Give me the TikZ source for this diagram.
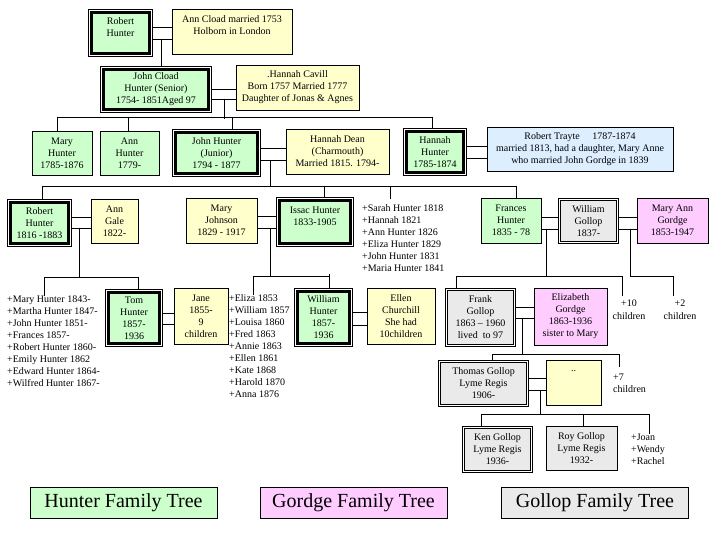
\documentclass[tikz,border=0pt]{standalone}
\usepackage{fontspec}
\setmainfont{Liberation Serif}

\definecolor{huntergreen}{HTML}{CCFFCC}
\definecolor{notecream}{HTML}{FFFFCC}
\definecolor{traytblue}{HTML}{DDEEFF}
\definecolor{gordgepink}{HTML}{FFCCFF}
\definecolor{gollopgray}{HTML}{EAEAEA}

\tikzstyle{famtext} = [font=\fontsize{10}{12}\selectfont, align=center, inner sep=0pt]
\tikzstyle{plainbox} = [famtext, draw=black, rectangle, line width=0.8pt]
\tikzstyle{greenbox} = [plainbox, fill=huntergreen]
\tikzstyle{yellowbox} = [plainbox, fill=notecream]
\tikzstyle{mainbox} = [famtext, draw=black, fill=huntergreen, rectangle,
    line width=2.6pt, outer sep=3.4pt,
    preaction={draw=black, line width=6.8pt},
    preaction={draw=white, line width=5.2pt}]
\tikzstyle{gollopbox} = [famtext, draw=black, fill=gollopgray, rectangle,
    double=white, double distance=1.4pt, line width=0.7pt, outer sep=1.4pt]
\tikzstyle{kidlist} = [famtext, align=left, anchor=north west]
\tikzstyle{legendbox} = [draw=black, line width=0.8pt, inner sep=0pt,
    font=\fontsize{20}{24}\selectfont, minimum width=187pt, minimum height=31pt]
\tikzstyle{famline} = [draw=black, line width=0.8pt, line cap=rect]

\begin{document}
\begin{tikzpicture}[x=1pt, y=-1pt]
\path[use as bounding box, fill=white] (0,0) rectangle (720,540);

%------------ Generation 1 ---------------------
\node [mainbox, minimum width=58.2pt, minimum height=41.2pt] (rob1) at (120.5,33) {Robert\\Hunter\\~};
\node [yellowbox, minimum width=120pt, minimum height=45pt] (acl) at (232,31.5) {Ann Cload married 1753\\Holborn in London\\~};

%------------ Generation 2 ---------------------
\node [mainbox, minimum width=105.2pt, minimum height=40.2pt] (jch) at (156,89.5) {John Cload\\Hunter (Senior)\\1754- 1851Aged 97};
\node [yellowbox, minimum width=123pt, minimum height=45pt] (hca) at (297.5,87.5) {.Hannah Cavill\\Born 1757 Married 1777\\Daughter of Jonas \& Agnes};

%------------ Generation 3 ---------------------
\node [greenbox, minimum width=60pt, minimum height=44pt] (mhu) at (62,153) {Mary\\Hunter\\1785-1876};
\node [greenbox, minimum width=59pt, minimum height=44pt] (ahu) at (129.5,153) {Ann\\Hunter\\1779-};
\node [mainbox, minimum width=82.2pt, minimum height=41.2pt] (jhj) at (216.5,153) {John Hunter\\(Junior)\\1794 - 1877};
\node [yellowbox, minimum width=103pt, minimum height=45pt] (hde) at (337.5,151.5) {Hannah Dean\\(Charmouth)\\Married 1815. 1794-};
\node [mainbox, minimum width=57.2pt, minimum height=41.2pt] (hhu) at (435,152) {Hannah\\Hunter\\1785-1874};
\node [plainbox, fill=traytblue, minimum width=186pt, minimum height=44pt] (rtr) at (580,149) {Robert Trayte\hspace{10pt} 1787-1874\\married 1813, had a daughter, Mary Anne\\who married John Gordge in 1839};

%------------ Generation 4 ---------------------
\node [mainbox, minimum width=58.2pt, minimum height=41.2pt] (rob2) at (39.5,223) {Robert\\Hunter\\1816 -1883};
\node [yellowbox, minimum width=47pt, minimum height=44pt] (aga) at (114.5,221) {Ann\\Gale\\1822-};
\node [yellowbox, minimum width=71pt, minimum height=45pt] (mjo) at (221.5,220.5) {Mary\\Johnson\\1829 - 1917};
\node [mainbox, minimum width=71.2pt, minimum height=43.2pt] (ish) at (315,222) {Issac Hunter\\1833-1905\\~};
\node [kidlist] (slist) at (362,204.5) {+Sarah Hunter 1818\\+Hannah 1821\\+Ann Hunter 1826\\+Eliza Hunter 1829\\+John Hunter 1831\\+Maria Hunter 1841};
\node [greenbox, minimum width=60pt, minimum height=45pt] (fhu) at (511,220.5) {Frances\\Hunter\\1835 - 78};
\node [gollopbox, minimum width=58.2pt, minimum height=43.2pt] (wgo) at (588.5,221) {William\\Gollop\\1837-};
\node [plainbox, fill=gordgepink, minimum width=71pt, minimum height=45pt] (mag) at (672.5,220.5) {Mary Ann\\Gordge\\1853-1947};

%------------ Generation 5 ---------------------
\node [kidlist] (rlist) at (7,295.5) {+Mary Hunter 1843-\\+Martha Hunter 1847-\\+John Hunter 1851-\\+Frances 1857-\\+Robert Hunter 1860-\\+Emily Hunter 1862\\+Edward Hunter 1864-\\+Wilfred Hunter 1867-};
\node [mainbox, minimum width=51.2pt, minimum height=51.2pt] (tom) at (134,318) {Tom\\Hunter\\1857-\\1936};
\node [yellowbox, minimum width=54pt, minimum height=56pt] (jan) at (201,316) {Jane\\1855-\\9\\children};
\node [kidlist] (jlist) at (229,294.5) {+Eliza 1853\\+William 1857\\+Louisa 1860\\+Fred 1863\\+Annie 1863\\+Ellen 1861\\+Kate 1868\\+Harold 1870\\+Anna 1876};
\node [mainbox, minimum width=52.2pt, minimum height=52.2pt] (wih) at (323.5,317.5) {William\\Hunter\\1857-\\1936};
\node [yellowbox, minimum width=68pt, minimum height=56pt] (ell) at (401,316) {Ellen\\Churchill\\She had\\10children};
\node [gollopbox, minimum width=68.2pt, minimum height=56.2pt] (fgo) at (480.5,317.5) {Frank\\Gollop\\1863 -- 1960\\lived\ \ to 97};
\node [plainbox, fill=gordgepink, minimum width=73pt, minimum height=57pt] (egg) at (570.5,316.5) {Elizabeth\\Gordge\\1863-1936\\sister to Mary};
\node [famtext, font=\fontsize{10}{13}\selectfont, anchor=north] (kids10) at (629,299.5) {+10\\children};
\node [famtext, font=\fontsize{10}{13}\selectfont, anchor=north] (kids2) at (680,299.5) {+2\\children};

%------------ Generation 6 and 7 ---------------------
\node [gollopbox, minimum width=88.2pt, minimum height=44.2pt] (tgo) at (483.5,383.5) {Thomas Gollop\\Lyme Regis\\1906-};
\node [yellowbox, minimum width=55pt, minimum height=45pt] (dot) at (573.5,382.5) {..\\~\\~};
\node [kidlist] (kids7) at (613,373.5) {+7\\children};
\node [gollopbox, minimum width=68.2pt, minimum height=44.2pt] (kgo) at (497.5,449.5) {Ken Gollop\\Lyme Regis\\1936-};
\node [plainbox, fill=gollopgray, minimum width=71pt, minimum height=44pt] (rgo) at (581.5,448) {Roy Gollop\\Lyme Regis\\1932-};
\node [kidlist] (klist) at (631,433.5) {+Joan\\+Wendy\\+Rachel};

%------------ Legend ---------------------
\node [legendbox, fill=huntergreen] (legh) at (123.5,502.5) {Hunter Family Tree};
\node [legendbox, fill=gordgepink] (legg) at (353.5,502.5) {Gordge Family Tree};
\node [legendbox, fill=gollopgray] (legl) at (595,502.5) {Gollop Family Tree};

%------------ Marriages ---------------------
\draw [famline] (rob1.east |- 0,27) -- (acl.west |- 0,27);
\draw [famline] (rob1.east |- 0,39) -- (acl.west |- 0,39);
\draw [famline] (jch.east |- 0,89) -- (hca.west |- 0,89);
\draw [famline] (jch.east |- 0,99) -- (hca.west |- 0,99);
\draw [famline] (jhj.east |- 0,148) -- (hde.west |- 0,148);
\draw [famline] (jhj.east |- 0,160) -- (hde.west |- 0,160);
\draw [famline] (hhu.east |- 0,146) -- (rtr.west |- 0,146);
\draw [famline] (hhu.east |- 0,158) -- (rtr.west |- 0,158);
\draw [famline] (rob2.east |- 0,217) -- (aga.west |- 0,217);
\draw [famline] (rob2.east |- 0,228) -- (aga.west |- 0,228);
\draw [famline] (mjo.east |- 0,216) -- (ish.west |- 0,216);
\draw [famline] (mjo.east |- 0,228) -- (ish.west |- 0,228);
\draw [famline] (fhu.east |- 0,217) -- (wgo.west |- 0,217);
\draw [famline] (fhu.east |- 0,229) -- (wgo.west |- 0,229);
\draw [famline] (wgo.east |- 0,217) -- (mag.west |- 0,217);
\draw [famline] (wgo.east |- 0,229) -- (mag.west |- 0,229);
\draw [famline] (tom.east |- 0,313) -- (jan.west |- 0,313);
\draw [famline] (tom.east |- 0,324) -- (jan.west |- 0,324);
\draw [famline] (wih.east |- 0,312) -- (ell.west |- 0,312);
\draw [famline] (wih.east |- 0,325) -- (ell.west |- 0,325);
\draw [famline] (fgo.east |- 0,307) -- (egg.west |- 0,307);
\draw [famline] (fgo.east |- 0,318) -- (egg.west |- 0,318);
\draw [famline] (tgo.east |- 0,378) -- (dot.west |- 0,378);
\draw [famline] (tgo.east |- 0,390) -- (dot.west |- 0,390);

%------------ Children ---------------------
\draw [famline] (161,39) -- (jch.north -| 161,0);
% John Cload Hunter
\draw [famline] (224,99) -- (224,119);
\draw [famline] (57,117) -- (432,117);
\draw [famline] (57,117) -- (mhu.north -| 57,0);
\draw [famline] (128,117) -- (ahu.north -| 128,0);
\draw [famline] (232,117) -- (jhj.north -| 232,0);
\draw [famline] (432,117) -- (hhu.north -| 432,0);
% John Hunter (Junior)
\draw [famline] (270,160) -- (270,186);
\draw [famline] (42,186) -- (516,186);
\draw [famline] (42,186) -- (rob2.north -| 42,0);
\draw [famline] (324,186) -- (ish.north -| 324,0);
\draw [famline] (390,186) -- ([yshift=6pt]slist.north -| 390,0);
\draw [famline] (516,186) -- (fhu.north -| 516,0);
% Robert Hunter 1816
\draw [famline] (79,228) -- (79,277);
\draw [famline] (44,277) -- (138,277);
\draw [famline] (44,277) -- (rlist.north -| 44,0);
\draw [famline] (138,277) -- (tom.north -| 138,0);
% Issac Hunter
\draw [famline] (270,228) -- (270,276);
\draw [famline] (253,276) -- (329,276);
\draw [famline] (253,276) -- (jlist.north -| 253,0);
\draw [famline] (329,274) -- (wih.north -| 329,0);
% William Gollop
\draw [famline] (546,229) -- (546,276);
\draw [famline] (456,276) -- (622,276);
\draw [famline] (456,276) -- (fgo.north -| 456,0);
\draw [famline] (622,276) -- ([yshift=4pt]kids10.north -| 622,0);
\draw [famline] (630,229) |- (673,276) -- ([yshift=4pt]kids2.north -| 673,0);
% Frank Gollop
\draw [famline] (522,318) -- (522,354);
\draw [famline] (492,354) -- (619,354);
\draw [famline] (492,354) -- (tgo.north -| 492,0);
\draw [famline] (619,354) -- ([yshift=7pt]kids7.north -| 619,0);
% Thomas Gollop
\draw [famline] (540,390) -- (540,414);
\draw [famline] (481,414) -- (649,414);
\draw [famline] (481,414) -- (kgo.north -| 481,0);
\draw [famline] (583,414) -- (rgo.north -| 583,0);
\draw [famline] (649,414) -- (klist.north -| 649,0);
\end{tikzpicture}
\end{document}
